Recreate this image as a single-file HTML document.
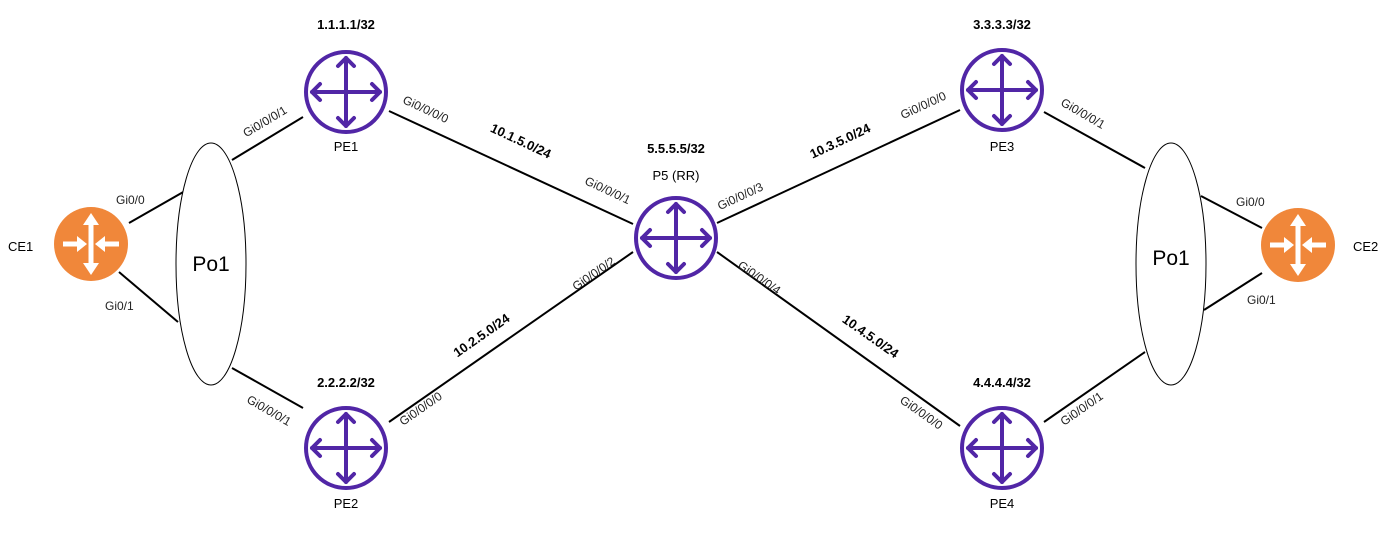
<!DOCTYPE html>
<html><head><meta charset="utf-8"><style>
html,body{margin:0;padding:0;background:#fff;}
svg{display:block;font-family:"Liberation Sans",Arial,sans-serif;}
.g{font-size:12px;fill:#222;}
.b{font-size:13px;font-weight:bold;fill:#000;}
.n{font-size:13px;fill:#000;}
</style></head><body>
<svg width="1391" height="556" viewBox="0 0 1391 556" xmlns="http://www.w3.org/2000/svg">
<defs>
<g id="r">
<circle r="40" fill="#fff" stroke="#5126a6" stroke-width="4"/>
<g stroke="#5126a6" stroke-width="4" fill="none" stroke-linecap="round" stroke-linejoin="round">
<line x1="-34" y1="0" x2="34" y2="0"/><line x1="0" y1="-34" x2="0" y2="34"/>
<polyline points="-26,-8 -34,0 -26,8"/><polyline points="26,-8 34,0 26,8"/>
<polyline points="-8,-26 0,-34 8,-26"/><polyline points="-8,26 0,34 8,26"/>
</g></g>
<g id="c">
<circle r="37" fill="#f0873a"/>
<path d="M-30 18 A37 37 0 0 0 30 18 A37 37 0 0 1 -30 18Z" fill="#d9742a"/>
<g fill="#fff">
<rect x="-2.5" y="-20" width="5" height="40"/>
<polygon points="0,-31 -8,-19 8,-19"/><polygon points="0,31 -8,19 8,19"/>
<rect x="-28" y="-2.5" width="16" height="5"/><polygon points="-4,0 -14,-8 -14,8"/>
<rect x="12" y="-2.5" width="16" height="5"/><polygon points="4,0 14,-8 14,8"/>
</g></g>
</defs>
<g stroke="#000" stroke-width="2">
<line x1="129" y1="223" x2="185" y2="191"/><line x1="119" y1="272" x2="178" y2="322"/>
<line x1="232" y1="160" x2="303" y2="117"/><line x1="232" y1="368" x2="303" y2="408"/>
<line x1="389" y1="111" x2="633" y2="224"/><line x1="389" y1="422" x2="633" y2="252"/>
<line x1="717" y1="223" x2="960" y2="110"/><line x1="717" y1="252" x2="960" y2="426"/>
<line x1="1044" y1="112" x2="1145" y2="168"/><line x1="1044" y1="422" x2="1145" y2="352"/>
<line x1="1201" y1="196" x2="1262" y2="228"/><line x1="1204" y1="310" x2="1262" y2="273"/>
</g>
<ellipse cx="211" cy="264" rx="35" ry="121" fill="#fff" stroke="#000" stroke-width="1"/>
<ellipse cx="1171" cy="264" rx="35" ry="121" fill="#fff" stroke="#000" stroke-width="1"/>
<text x="211" y="271" font-size="21" text-anchor="middle">Po1</text>
<text x="1171" y="265" font-size="21" text-anchor="middle">Po1</text>
<use href="#r" x="346" y="92"/><use href="#r" x="346" y="448"/>
<use href="#r" x="676" y="238"/><use href="#r" x="1002" y="90"/><use href="#r" x="1002" y="448"/>
<use href="#c" x="91" y="244"/><use href="#c" x="1298" y="245"/>
<text class="n" x="8" y="251">CE1</text><text class="n" x="1353" y="251">CE2</text>
<text class="b" x="346" y="29" text-anchor="middle">1.1.1.1/32</text>
<text class="n" x="346" y="151" text-anchor="middle">PE1</text>
<text class="b" x="346" y="387" text-anchor="middle">2.2.2.2/32</text>
<text class="n" x="346" y="508" text-anchor="middle">PE2</text>
<text class="b" x="676" y="153" text-anchor="middle">5.5.5.5/32</text>
<text class="n" x="676" y="180" text-anchor="middle">P5 (RR)</text>
<text class="b" x="1002" y="29" text-anchor="middle">3.3.3.3/32</text>
<text class="n" x="1002" y="151" text-anchor="middle">PE3</text>
<text class="b" x="1002" y="387" text-anchor="middle">4.4.4.4/32</text>
<text class="n" x="1002" y="508" text-anchor="middle">PE4</text>
<text class="b" x="519" y="145" text-anchor="middle" transform="rotate(25 519 145)">10.1.5.0/24</text>
<text class="b" x="484" y="339" text-anchor="middle" transform="rotate(-35 484 339)">10.2.5.0/24</text>
<text class="b" x="842" y="145" text-anchor="middle" transform="rotate(-25 842 145)">10.3.5.0/24</text>
<text class="b" x="868" y="340" text-anchor="middle" transform="rotate(35 868 340)">10.4.5.0/24</text>
<text class="g" x="116" y="204">Gi0/0</text><text class="g" x="105" y="310">Gi0/1</text>
<text class="g" x="1236" y="206">Gi0/0</text><text class="g" x="1247" y="304">Gi0/1</text>
<g class="g">
<text x="267" y="125" text-anchor="middle" transform="rotate(-31 267 125)">Gi0/0/0/1</text>
<text x="424" y="113" text-anchor="middle" transform="rotate(25 424 113)">Gi0/0/0/0</text>
<text x="267" y="414" text-anchor="middle" transform="rotate(30 267 414)">Gi0/0/0/1</text>
<text x="423" y="412" text-anchor="middle" transform="rotate(-35 423 412)">Gi0/0/0/0</text>
<text x="606" y="194" text-anchor="middle" transform="rotate(25 606 194)">Gi0/0/0/1</text>
<text x="596" y="277" text-anchor="middle" transform="rotate(-35 596 277)">Gi0/0/0/2</text>
<text x="742" y="200" text-anchor="middle" transform="rotate(-25 742 200)">Gi0/0/0/3</text>
<text x="757" y="281" text-anchor="middle" transform="rotate(35 757 281)">Gi0/0/0/4</text>
<text x="925" y="109" text-anchor="middle" transform="rotate(-25 925 109)">Gi0/0/0/0</text>
<text x="1081" y="117" text-anchor="middle" transform="rotate(30 1081 117)">Gi0/0/0/1</text>
<text x="919" y="416" text-anchor="middle" transform="rotate(35 919 416)">Gi0/0/0/0</text>
<text x="1084" y="412" text-anchor="middle" transform="rotate(-35 1084 412)">Gi0/0/0/1</text>
</g>
</svg>
</body></html>
